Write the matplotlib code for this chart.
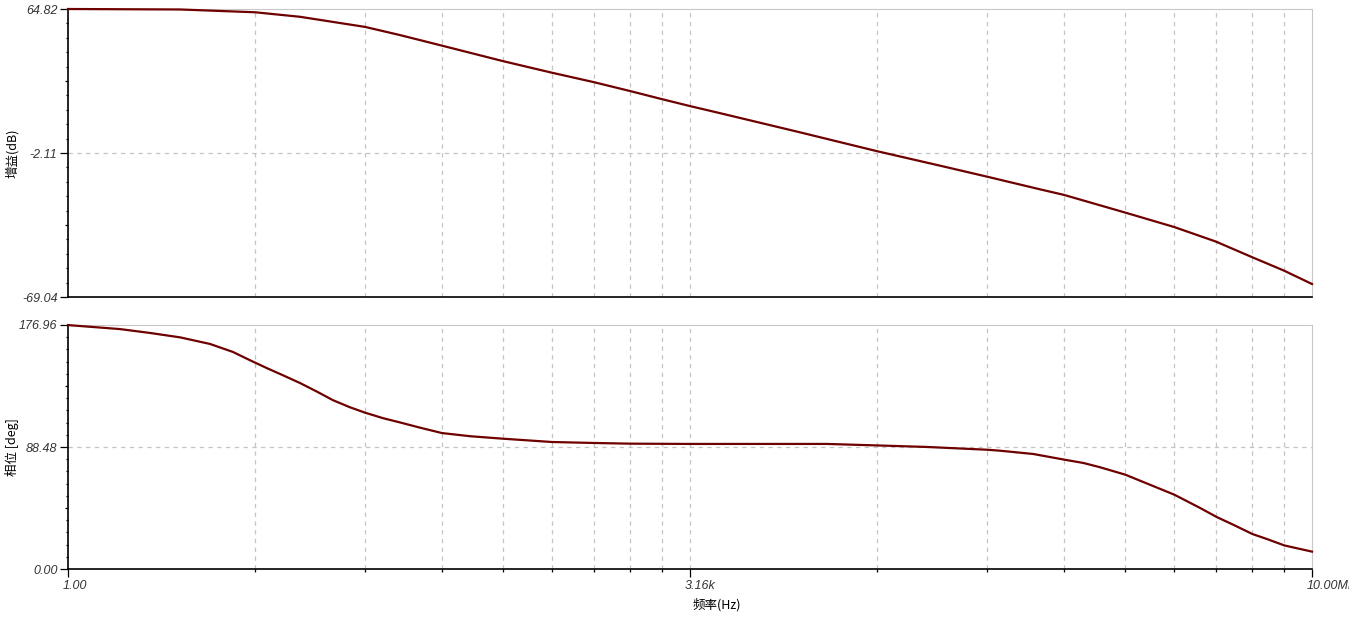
import numpy as np
import matplotlib
matplotlib.use("Agg")
import matplotlib.pyplot as plt
from matplotlib.ticker import FixedLocator, NullFormatter
from matplotlib.transforms import ScaledTranslation

# frecuencias (Hz)
freq_gain = [1, 4.27, 11.3, 20.2, 46.9, 73.8, 127, 280, 529, 912, 1453, 2203,
             3162, 4670, 13150, 35400, 80700, 148300, 295100, 402700, 897500,
             1.675e6, 2.884e6, 4.592e6, 6.966e6, 1e7]
gain_db = [64.82, 64.6, 63.3, 61.2, 56.5, 52.7, 47.8, 40.6, 35.2, 30.8, 26.7, 22.9,
           19.7, 16.4, 7.5, -1.2, -8.0, -13.1, -19.0, -21.6, -29.9,
           -36.5, -43.3, -50.5, -56.8, -63.0]

freq_phase = [1, 1.96, 2.89, 4.27, 6.30, 8.48, 10.57, 13.2, 16.2, 20.2, 25.2, 31.0,
              38.6, 46.9, 59.2, 73.8, 95.7, 127, 183, 280, 529, 912, 1453, 3162,
              18660, 36140, 68230, 148300, 175500, 270300, 404000, 516900, 641500,
              890300, 1.226e6, 1.680e6, 2.343e6, 2.909e6, 3.607e6, 4.613e6,
              5.561e6, 6.985e6, 1e7]
phase_deg = [176.9, 174.0, 171.2, 168.0, 163.2, 157.4, 151.4, 145.6, 140.5, 134.9, 128.6, 122.4,
             117.3, 113.4, 109.4, 106.3, 102.5, 98.6, 96.3, 94.5, 92.1, 91.4, 90.9, 90.7,
             90.7, 89.6, 88.5, 86.5, 85.8, 83.4, 79.3, 76.9, 73.8,
             68.4, 61.1, 53.9, 44.3, 37.7, 32.1, 25.4,
             21.8, 17.1, 12.6]

gain_lim = (-69.04, 64.82)
phase_lim = (0.00, 176.96)
x_lim = (1.0, 1e7)
x_major = [1.0, 3162.28, 1e7]
x_major_labels = ["1.00", "3.16k", "10.00MEG"]

LINE = "#6e0000"
GRIDC = "#c4c4c4"
TXT = "#333333"
CJK = ["Noto Sans CJK SC", "DejaVu Sans"]

plt.rcParams["font.family"] = ["Liberation Sans", "DejaVu Sans"]

fig = plt.figure(figsize=(13.49, 6.22), dpi=100)
ax1 = fig.add_axes([68 / 1349, 1 - 297 / 622, 1244 / 1349, 288 / 622])
ax2 = fig.add_axes([68 / 1349, 1 - 569 / 622, 1244 / 1349, 244 / 622])

# rejilla "log" del programa: 1 -> 3.16k -> 10M, con subdivisiones 2..9
span = np.log10(x_lim[1]) / 2
x_minor = [10 ** (span * (n + np.log10(k))) for n in range(2) for k in range(2, 10)]


def preparar(ax, ylim, ylab, bottom):
    ax.set_xscale("log")
    ax.set_xlim(*x_lim)
    ax.set_ylim(*ylim)
    lo, hi = ylim
    mid = (lo + hi) / 2
    ax.xaxis.set_major_locator(FixedLocator(x_major))
    ax.xaxis.set_minor_locator(FixedLocator(x_minor))
    ax.xaxis.set_minor_formatter(NullFormatter())
    for xv in x_minor + [x_major[1]]:
        ax.axvline(xv, color=GRIDC, ls=(0, (3.5, 3.5)), lw=0.9, zorder=0)
    ax.axhline(mid, color=GRIDC, ls=(0, (3.5, 3.5)), lw=0.9, zorder=0)

    ax.set_yticks([lo, mid, hi])
    ax.set_yticklabels([f"{v:.2f}" for v in (lo, mid, hi)])
    step = (hi - lo) / 20
    minors = [lo + i * step for i in range(1, 20) if i not in (5, 10, 15)]
    ax.yaxis.set_minor_locator(FixedLocator(minors))
    ax.tick_params(axis="y", which="major", length=6, width=0.9, pad=1.5,
                   labelsize=9, labelcolor=TXT)
    ax.tick_params(axis="y", which="minor", length=1.3, width=0.9)
    for lab in ax.get_yticklabels():
        lab.set_style("italic")

    sec = ax.secondary_yaxis("left")
    sec.set_yticks([lo + 5 * step, lo + 15 * step])
    sec.set_yticklabels(["", ""])
    sec.tick_params(length=2.5, width=0.9)
    sec.spines["left"].set_visible(False)

    ax.spines["top"].set_color("#c8c8c8")
    ax.spines["right"].set_color("#c8c8c8")
    ax.spines["left"].set_linewidth(1.2)
    ax.spines["bottom"].set_linewidth(1.2)

    ax.set_ylabel(ylab, fontsize=9, family=CJK, color="black")
    ax.yaxis.set_label_coords(-0.039, 0.5)

    if bottom:
        ax.set_xticklabels(x_major_labels)
        ax.tick_params(axis="x", which="major", length=6, width=0.9, pad=2,
                       labelsize=9, labelcolor=TXT)
        ax.tick_params(axis="x", which="minor", length=2.5, width=0.9)
        off = ScaledTranslation(-5 / 100, 0, fig.dpi_scale_trans)
        for lab in ax.get_xticklabels():
            lab.set_style("italic")
            lab.set_ha("left")
            lab.set_transform(lab.get_transform() + off)
    else:
        ax.tick_params(axis="x", which="both", length=0, labelbottom=False)


preparar(ax1, gain_lim, "增益(dB)", False)
preparar(ax2, phase_lim, "相位 [deg]", True)

ax1.plot(freq_gain, gain_db, color=LINE, lw=1.6, clip_on=False, zorder=3)
ax2.plot(freq_phase, phase_deg, color=LINE, lw=1.6, clip_on=False, zorder=3)

fig.text(693 / 1349, 1 - 605 / 622, "频率(Hz)", ha="left", va="center",
         fontsize=9, family=CJK, color="black")

fig.savefig("out.png", dpi=100)
